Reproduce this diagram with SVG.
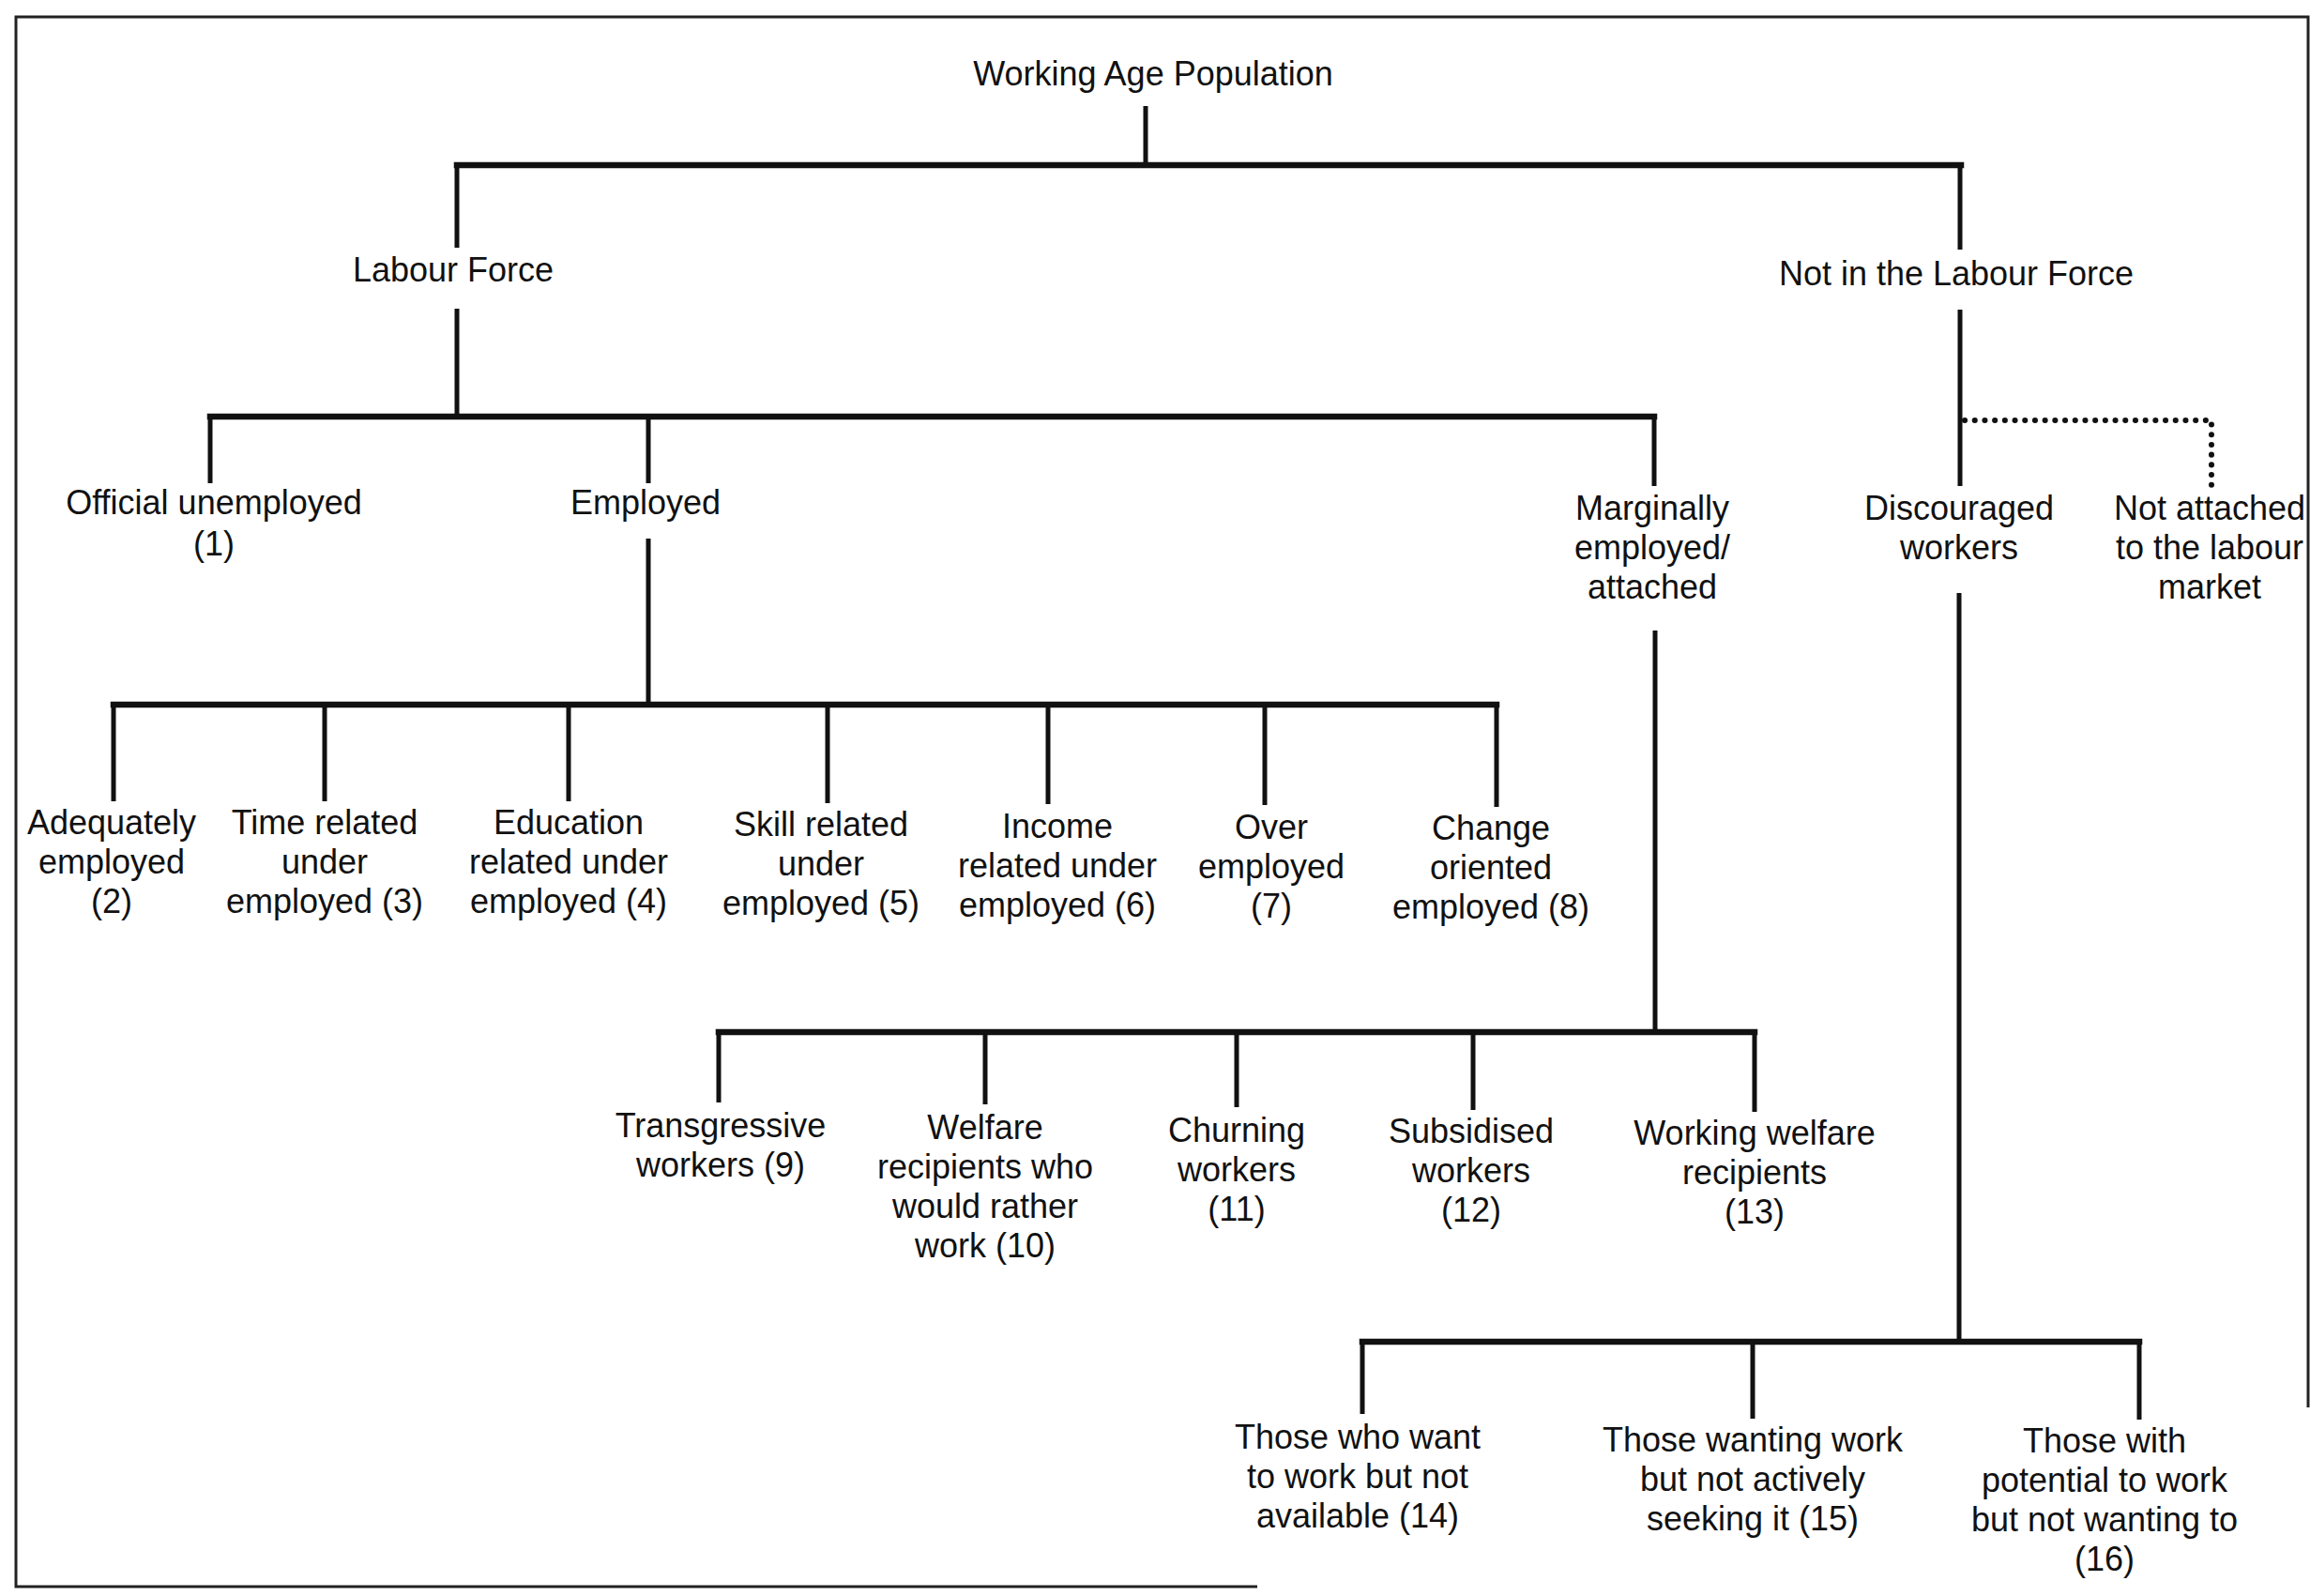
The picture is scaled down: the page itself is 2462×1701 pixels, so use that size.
<svg xmlns="http://www.w3.org/2000/svg" width="2462" height="1701" viewBox="0 0 2462 1701">
<style>
text{font-family:"Liberation Sans",Arial,sans-serif;font-size:36px;fill:#111;text-anchor:middle}
.h{stroke:#111;stroke-width:6.5;fill:none;stroke-linecap:square}
.v{stroke:#111;stroke-width:5;fill:none}
.d{stroke:#111;stroke-width:6;fill:none;stroke-dasharray:0.1 10.6;stroke-linecap:round}
.frame{fill:none;stroke:#222;stroke-width:3}
</style>
<rect width="2462" height="1701" fill="#fff"/>
<path class="frame" d="M1340 1691H17V18H2460V1500"/>
<g id="connectors">
<path class="v" d="M1221 113V176"/>
<path class="h" d="M487 176H2090"/>
<path class="v" d="M487 176V264M487 329V444"/>
<path class="v" d="M2089 176V266M2089 330V518"/>
<path class="h" d="M224 444H1763"/>
<path class="v" d="M224 444V515M691 444V515M1763 444V518"/>
<path class="v" d="M691 574V751"/>
<path class="h" d="M121 751H1595"/>
<path class="v" d="M121 751V854M346 751V854M606 751V854M882 751V856M1117 751V857M1348 751V858M1595 751V860"/>
<path class="v" d="M1764 672V1100"/>
<path class="h" d="M766 1100H1870"/>
<path class="v" d="M766 1100V1175M1050 1100V1177M1318 1100V1180M1570 1100V1183M1870 1100V1185"/>
<path class="v" d="M2088 632V1430"/>
<path class="h" d="M1452 1430H2280"/>
<path class="v" d="M1452 1430V1507M1868 1430V1512M2280 1430V1513"/>
<path class="d" d="M2094 448H2357V517"/>
</g>
<g id="working-age-population"><text x="1229" y="91">Working Age Population</text></g>
<g id="labour-force"><text x="483" y="300">Labour Force</text></g>
<g id="not-in-labour-force"><text x="2085" y="304">Not in the Labour Force</text></g>
<g id="official-unemployed"><text x="228" y="548">Official unemployed</text><text x="228" y="592">(1)</text></g>
<g id="employed"><text x="688" y="548">Employed</text></g>
<g id="marginally-employed"><text x="1761" y="554">Marginally</text><text x="1761" y="596">employed/</text><text x="1761" y="638">attached</text></g>
<g id="discouraged-workers"><text x="2088" y="554">Discouraged</text><text x="2088" y="596">workers</text></g>
<g id="not-attached"><text x="2355" y="554">Not attached</text><text x="2355" y="596">to the labour</text><text x="2355" y="638">market</text></g>
<g id="adequately-employed"><text x="119" y="889">Adequately</text><text x="119" y="931">employed</text><text x="119" y="973">(2)</text></g>
<g id="time-related"><text x="346" y="889">Time related</text><text x="346" y="931">under</text><text x="346" y="973">employed (3)</text></g>
<g id="education-related"><text x="606" y="889">Education</text><text x="606" y="931">related under</text><text x="606" y="973">employed (4)</text></g>
<g id="skill-related"><text x="875" y="891">Skill related</text><text x="875" y="933">under</text><text x="875" y="975">employed (5)</text></g>
<g id="income-related"><text x="1127" y="893">Income</text><text x="1127" y="935">related under</text><text x="1127" y="977">employed (6)</text></g>
<g id="over-employed"><text x="1355" y="894">Over</text><text x="1355" y="936">employed</text><text x="1355" y="978">(7)</text></g>
<g id="change-oriented"><text x="1589" y="895">Change</text><text x="1589" y="937">oriented</text><text x="1589" y="979">employed (8)</text></g>
<g id="transgressive"><text x="768" y="1212">Transgressive</text><text x="768" y="1254">workers (9)</text></g>
<g id="welfare-recipients"><text x="1050" y="1214">Welfare</text><text x="1050" y="1256">recipients who</text><text x="1050" y="1298">would rather</text><text x="1050" y="1340">work (10)</text></g>
<g id="churning"><text x="1318" y="1217">Churning</text><text x="1318" y="1259">workers</text><text x="1318" y="1301">(11)</text></g>
<g id="subsidised"><text x="1568" y="1218">Subsidised</text><text x="1568" y="1260">workers</text><text x="1568" y="1302">(12)</text></g>
<g id="working-welfare"><text x="1870" y="1220">Working welfare</text><text x="1870" y="1262">recipients</text><text x="1870" y="1304">(13)</text></g>
<g id="want-not-available"><text x="1447" y="1544">Those who want</text><text x="1447" y="1586">to work but not</text><text x="1447" y="1628">available (14)</text></g>
<g id="not-seeking"><text x="1868" y="1547">Those wanting work</text><text x="1868" y="1589">but not actively</text><text x="1868" y="1631">seeking it (15)</text></g>
<g id="not-wanting"><text x="2243" y="1548">Those with</text><text x="2243" y="1590">potential to work</text><text x="2243" y="1632">but not wanting to</text><text x="2243" y="1674">(16)</text></g>
</svg>
